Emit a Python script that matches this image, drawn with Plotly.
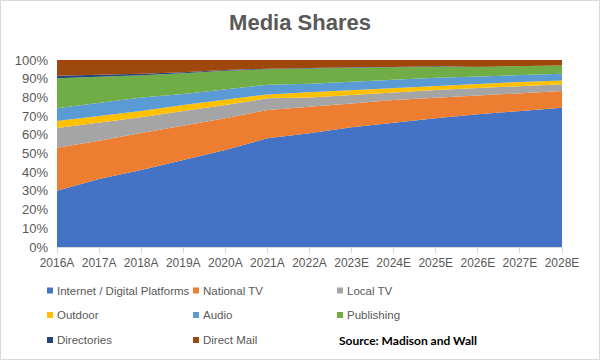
import plotly.graph_objects as go

years = ["2016A", "2017A", "2018A", "2019A", "2020A", "2021A", "2022A",
         "2023E", "2024E", "2025E", "2026E", "2027E", "2028E"]

internet = [30.1, 36.4, 41.2, 46.7, 51.9, 58.1, 60.8, 64.0, 66.5, 68.8, 71.0, 72.9, 74.5]
national_tv = [23.0, 20.4, 19.8, 18.3, 16.9, 15.2, 14.1, 12.8, 12.1, 11.1, 9.9, 9.3, 8.9]
local_tv = [10.5, 9.5, 8.4, 7.7, 7.1, 6.2, 5.1, 4.5, 4.1, 4.1, 4.1, 3.9, 3.6]
outdoor = [3.8, 3.7, 3.3, 3.2, 2.7, 2.1, 2.7, 2.5, 2.5, 2.4, 2.2, 2.1, 2.1]
audio = [6.8, 7.2, 7.2, 5.9, 5.9, 5.2, 4.6, 4.6, 4.5, 4.1, 4.0, 3.8, 3.6]
publishing = [16.0, 13.7, 11.9, 11.1, 9.8, 8.2, 8.3, 7.5, 6.4, 5.9, 5.1, 4.8, 4.3]
directories = [1.4, 1.0, 0.8, 0.6, 0.4, 0.3, 0.3, 0.2, 0.2, 0.2, 0.1, 0.1, 0.1]
direct_mail = [8.4, 8.1, 7.4, 6.5, 5.3, 4.7, 4.1, 3.9, 3.7, 3.5, 3.5, 3.1, 2.9]

series = [
    ("Internet / Digital Platforms", internet, "#4472C4"),
    ("National TV", national_tv, "#ED7D31"),
    ("Local TV", local_tv, "#A5A5A5"),
    ("Outdoor", outdoor, "#FFC000"),
    ("Audio", audio, "#5B9BD5"),
    ("Publishing", publishing, "#70AD47"),
    ("Directories", directories, "#264478"),
    ("Direct Mail", direct_mail, "#9E480E"),
]

fig = go.Figure()
for name, vals, color in series:
    fig.add_trace(go.Scatter(
        x=years, y=vals, name=name, mode="lines", stackgroup="one",
        line=dict(width=0, color=color), fillcolor=color, showlegend=False,
    ))

# geometry (pixels)
W, H = 600, 360
L, R, T, B = 57, 38, 60, 113
PW, PH = W - L - R, H - T - B


def px(x):
    return (x - L) / PW


def py(y):
    return (H - B - y) / PH


GRAY = "#595959"
shapes = [dict(type="rect", xref="paper", yref="paper",
               x0=px(0.5), x1=px(W - 0.5), y0=py(H - 0.5), y1=py(0.5),
               line=dict(color="#D9D9D9", width=1), fillcolor="rgba(0,0,0,0)",
               layer="below")]
annotations = []

col_x = [47, 193, 337]
row_y = [290.5, 315, 340]
for i, (name, _, color) in enumerate(series):
    c, r = i % 3, i // 3
    x0, yc = col_x[c], row_y[r]
    shapes.append(dict(type="rect", xref="paper", yref="paper",
                       x0=px(x0), x1=px(x0 + 6), y0=py(yc + 3), y1=py(yc - 3),
                       line=dict(width=0), fillcolor=color))
    annotations.append(dict(text=name, xref="paper", yref="paper",
                            x=px(x0 + 7.5), y=py(yc), xanchor="left", yanchor="middle",
                            showarrow=False,
                            font=dict(family="Liberation Sans, Arial", size=11.5, color=GRAY)))

annotations.append(dict(text="<b>Source: Madison and Wall</b>", xref="paper", yref="paper",
                        x=px(337), y=py(340), xanchor="left", yanchor="middle",
                        showarrow=False,
                        font=dict(family="Lato, Open Sans", size=12, color="#000000")))

fig.update_layout(
    width=W, height=H,
    margin=dict(l=L, r=R, t=T, b=B, pad=0),
    paper_bgcolor="white", plot_bgcolor="white",
    title=dict(text="<b>Media Shares</b>", x=0.5, xref="container", xanchor="center",
               y=1 - 22 / H, yanchor="middle",
               font=dict(family="Liberation Sans, Arial", size=22, color=GRAY)),
    font=dict(family="Liberation Sans, Arial", size=13, color=GRAY),
    showlegend=False,
    shapes=shapes,
    annotations=annotations,
    xaxis=dict(type="category", range=[0, len(years) - 1], showgrid=False,
               showline=True, linecolor="#D9D9D9", linewidth=1,
               ticks="outside", ticklen=5, tickcolor="#D9D9D9",
               tickfont=dict(size=12, color=GRAY), zeroline=False),
    yaxis=dict(range=[0, 100], dtick=10, ticksuffix="%", showgrid=False,
               showline=False, zeroline=False, ticks="", ticklabelstandoff=8,
               tickfont=dict(size=13, color=GRAY)),
)

fig.write_html("out.html", config={"displayModeBar": False},
               post_script="document.body.style.margin='0';document.body.style.overflow='hidden';")
